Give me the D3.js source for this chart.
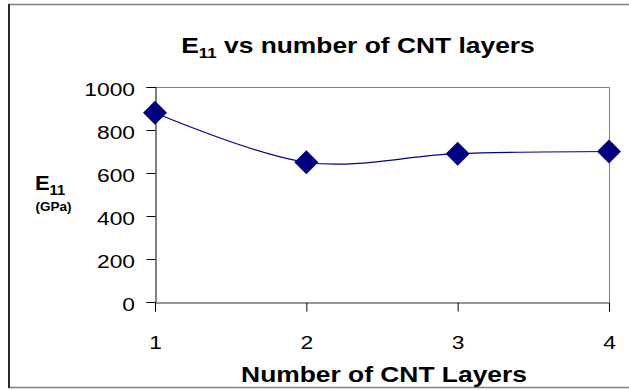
<!DOCTYPE html>
<html>
<head>
<meta charset="utf-8">
<script src="https://cdn.jsdelivr.net/npm/d3@7"></script>
<style>
  html, body { margin: 0; padding: 0; background: #fff; }
  svg { display: block; font-family: Arial, "Liberation Sans", sans-serif; }
</style>
</head>
<body>
<svg id="chart" width="629" height="390"></svg>
<script>
// Young's modulus E11 (GPa) against the number of CNT layers
const layers = [1, 2, 3, 4];
const e11 = [880, 650, 690, 700];
const yTicks = [0, 200, 400, 600, 800, 1000];

const plot = { left: 155, right: 609, top: 87, bottom: 302 };
const stretch = 1.2; // glyphs in this chart are drawn slightly wide
const FONT = "Arial, 'Liberation Sans', sans-serif";

const svg = d3.select("#chart");

// outer chart frame (runs off the right edge)
svg.append("rect").attr("x", 9).attr("y", 4.5).attr("width", 700).attr("height", 383)
  .attr("fill", "#fff").attr("stroke", "#808080").attr("stroke-width", 1.5);
svg.append("line").attr("x1", 9).attr("x2", 9).attr("y1", 4).attr("y2", 388)
  .attr("stroke", "#000").attr("stroke-width", 1.5);

const x = d3.scaleLinear().domain([1, 4]).range([plot.left, plot.right]);
const y = d3.scaleLinear().domain([0, 1000]).range([plot.bottom, plot.top]);

// plot-area frame (top and right edges)
svg.append("path")
  .attr("d", `M${plot.left},${plot.top + 0.5}H${plot.right + 0.5}V${plot.bottom}`)
  .attr("fill", "none").attr("stroke", "#808080").attr("stroke-width", 1);

// place a text element at (tx, ty) with a horizontal stretch
function place(sel, tx, ty, s) {
  sel.attr("x", 0).attr("y", 0)
    .attr("transform", `translate(${tx},${ty}) scale(${s},1)`);
  return sel;
}

// y axis
const yAxis = svg.append("g").attr("transform", `translate(${plot.left + 0.5},0)`)
  .call(d3.axisLeft(y).tickValues(yTicks).tickSize(9).tickPadding(0).tickFormat(d3.format("d")));
yAxis.select(".domain").attr("stroke", "#000");
yAxis.selectAll(".tick line").attr("stroke", "#000");
yAxis.selectAll(".tick text")
  .attr("font-size", 19).attr("font-family", FONT).attr("fill", "#000").attr("dy", null)
  .each(function () { place(d3.select(this), -20.5, 8.5, stretch); });

// x axis
const xAxis = svg.append("g").attr("transform", `translate(0,${plot.bottom + 0.5})`)
  .call(d3.axisBottom(x).tickValues(layers).tickSize(9).tickPadding(0).tickFormat(d3.format("d")));
xAxis.select(".domain").attr("stroke", "#333");
xAxis.selectAll(".tick line").attr("stroke", "#000");
xAxis.selectAll(".tick text")
  .attr("font-size", 19).attr("font-family", FONT).attr("fill", "#000").attr("dy", null)
  .each(function () { place(d3.select(this), 0, 46.5, stretch); });

// smoothed series line
const line = d3.line().x((d, i) => x(layers[i])).y(d => y(d)).curve(d3.curveCardinal.tension(0));
svg.append("path").datum(e11).attr("d", line)
  .attr("fill", "none").attr("stroke", "#00008b").attr("stroke-width", 1.2);

// diamond markers
svg.selectAll("path.marker").data(e11).join("path").attr("class", "marker")
  .attr("d", (d, i) => {
    const cx = x(layers[i]), cy = y(d), r = 12;
    return `M${cx},${cy - r}L${cx + r},${cy}L${cx},${cy + r}L${cx - r},${cy}Z`;
  })
  .attr("fill", "#000080");

// chart title
const title = svg.append("text").attr("text-anchor", "middle").attr("font-weight", "bold")
  .attr("font-size", 22);
title.append("tspan").text("E");
title.append("tspan").attr("font-size", 14).attr("dy", 5).text("11");
title.append("tspan").attr("dy", -5).text(" vs number of CNT layers");
place(title, 358, 53, stretch);

// y axis title
const yt = svg.append("text").attr("text-anchor", "middle").attr("font-weight", "bold")
  .attr("font-size", 21);
yt.append("tspan").text("E");
yt.append("tspan").attr("font-size", 14).attr("dy", 5).text("11");
place(yt, 50, 190, 1.05);
const yu = svg.append("text").attr("text-anchor", "middle").attr("font-weight", "bold")
  .attr("font-size", 13.5).text("(GPa)");
place(yu, 53.5, 210.5, 1.0);

// x axis title
const xt = svg.append("text").attr("text-anchor", "middle").attr("font-weight", "bold")
  .attr("font-size", 22).text("Number of CNT Layers");
place(xt, 384, 382, stretch);
</script>
</body>
</html>
